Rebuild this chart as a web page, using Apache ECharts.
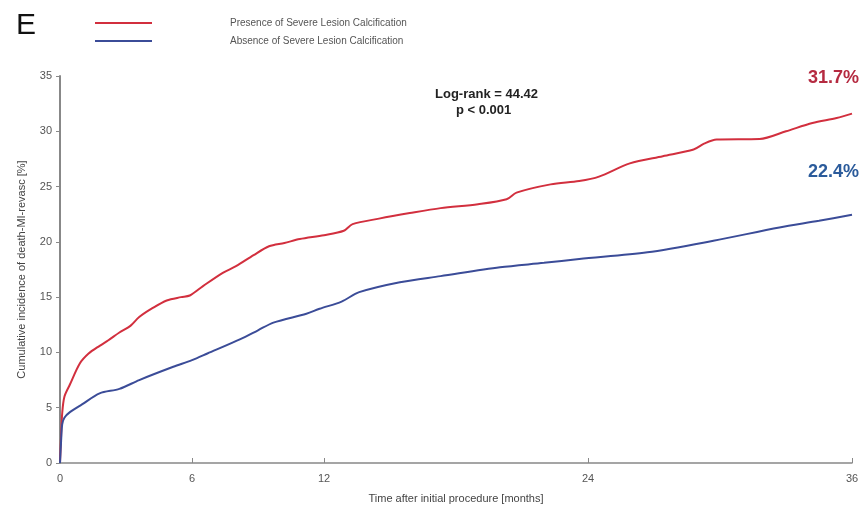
<!DOCTYPE html>
<html><head><meta charset="utf-8">
<script src="https://cdn.jsdelivr.net/npm/echarts@6/dist/echarts.min.js"></script>
<style>html,body{margin:0;padding:0;background:#fff}#c{width:867px;height:509px}</style>
</head><body><div id="c"></div>
<script>
const seriesNames = ['Presence of Severe Lesion Calcification', 'Absence of Severe Lesion Calcification'];
const xTicks = [0, 6, 12, 24, 36];
const presence = [[0,0],[0.05,2.5],[0.1,4.5],[0.2,6],[0.45,7.1],[0.9,9.0],[1.3,9.9],[1.8,10.6],[2.2,11.1],[2.7,11.8],[3.2,12.4],[3.6,13.2],[4.2,14.0],[4.85,14.7],[5.5,15.0],[5.9,15.15],[6.5,16.0],[7.4,17.2],[8.0,17.8],[8.8,18.8],[9.5,19.6],[10.2,19.9],[10.9,20.25],[12.0,20.6],[12.9,21.0],[13.3,21.6],[14.5,22.1],[15.9,22.6],[17.3,23.05],[19.0,23.4],[20.3,23.85],[20.75,24.45],[22.3,25.2],[23.6,25.5],[24.5,25.9],[25.9,27.1],[27.4,27.75],[28.8,28.35],[29.3,28.9],[29.85,29.25],[31.8,29.3],[33.0,30.0],[34.2,30.75],[35.3,31.2],[36,31.6]];
const absence = [[0,0],[0.05,2],[0.1,3.5],[0.2,4.1],[0.45,4.6],[1.0,5.3],[1.8,6.3],[2.7,6.7],[3.6,7.5],[5.15,8.7],[6.0,9.3],[6.7,9.9],[8.2,11.2],[9.0,12.0],[9.7,12.7],[11.2,13.5],[11.8,13.95],[12.8,14.6],[13.6,15.45],[15.45,16.35],[17.3,16.9],[20,17.7],[22,18.1],[23.6,18.45],[26.7,19.05],[29.7,20.1],[32.7,21.3],[34.5,21.9],[36,22.45]];
const endLabels = ['31.7%', '22.4%'];
const statLines = ['Log-rank = 44.42', 'p < 0.001'];

const RED = '#d22f3e', BLUE = '#3b4c98';
const FONT = 'Liberation Sans, Arial, sans-serif';
const chart = echarts.init(document.getElementById('c'));
chart.setOption({
  animation: false,
  textStyle: {fontFamily: FONT},
  grid: {left: 60, right: 15, top: 76, bottom: 44},
  legend: {
    orient: 'vertical', left: 90, top: 13, itemWidth: 57, itemHeight: 2, itemGap: 8,
    icon: 'rect',
    textStyle: {fontSize: 10, color: '#555', padding: [0, 0, 0, 73]},
    data: seriesNames
  },
  xAxis: {
    type: 'value', min: 0, max: 36, interval: 6,
    name: 'Time after initial procedure [months]', nameLocation: 'middle', nameGap: 30,
    nameTextStyle: {fontSize: 11, color: '#444'},
    axisLine: {lineStyle: {color: '#888', width: 1.5}},
    axisTick: {inside: true, length: 5, customValues: xTicks, lineStyle: {color: '#888'}},
    axisLabel: {customValues: xTicks, fontSize: 11, color: '#555', margin: 10},
    splitLine: {show: false}
  },
  yAxis: {
    type: 'value', min: 0, max: 35, interval: 5,
    name: 'Cumulative incidence of death-MI-revasc [%]', nameLocation: 'middle', nameGap: 33,
    nameTextStyle: {fontSize: 11, color: '#444'},
    axisLine: {show: true, lineStyle: {color: '#888', width: 2}},
    axisTick: {show: true, length: 4, lineStyle: {color: '#888'}},
    axisLabel: {fontSize: 11, color: '#555', margin: 8},
    splitLine: {show: false}
  },
  series: [
    {name: seriesNames[0], type: 'line', data: presence, showSymbol: false, smooth: 0.3,
     lineStyle: {color: RED, width: 2}, itemStyle: {color: RED}},
    {name: seriesNames[1], type: 'line', data: absence, showSymbol: false, smooth: 0.3,
     lineStyle: {color: BLUE, width: 2}, itemStyle: {color: BLUE}}
  ],
  graphic: [
    {type: 'text', left: 16, top: 11, style: {text: 'E', fontSize: 30, fill: '#111', fontFamily: FONT}},
    {type: 'text', left: 435, top: 88, style: {text: statLines[0], fontSize: 13, fontWeight: 'bold', fill: '#222', fontFamily: FONT}},
    {type: 'text', left: 456, top: 104, style: {text: statLines[1], fontSize: 13, fontWeight: 'bold', fill: '#222', fontFamily: FONT}},
    {type: 'text', left: 808, top: 69, style: {text: endLabels[0], fontSize: 18, fontWeight: 'bold', fill: '#b52a40', fontFamily: FONT}},
    {type: 'text', left: 808, top: 163, style: {text: endLabels[1], fontSize: 18, fontWeight: 'bold', fill: '#2b5b9b', fontFamily: FONT}}
  ]
});
</script></body></html>
